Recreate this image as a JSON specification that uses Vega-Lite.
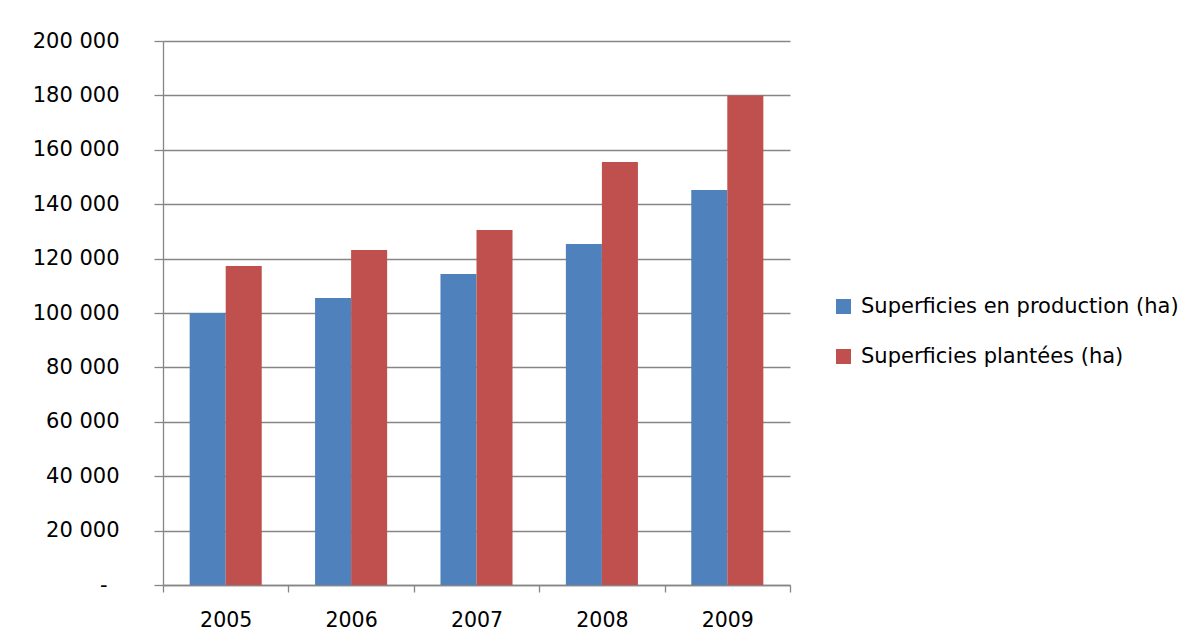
{
  "$schema": "https://vega.github.io/schema/vega-lite/v6.json",
  "autosize": "none",
  "padding": {"left": 163, "top": 41, "right": 405, "bottom": 57},
  "width": 627,
  "height": 544,
  "background": "white",
  "config": {
    "view": {"stroke": null},
    "font": "DejaVu Sans",
    "axis": {"labelFont": "DejaVu Sans", "labelColor": "#000000", "labelFontSize": 21}
  },
  "data": {
    "values": [
      {"year": "2005", "series": "Superficies en production (ha)", "value": 100000},
      {"year": "2005", "series": "Superficies plantées (ha)", "value": 117300},
      {"year": "2006", "series": "Superficies en production (ha)", "value": 105500},
      {"year": "2006", "series": "Superficies plantées (ha)", "value": 123200},
      {"year": "2007", "series": "Superficies en production (ha)", "value": 114300},
      {"year": "2007", "series": "Superficies plantées (ha)", "value": 130500},
      {"year": "2008", "series": "Superficies en production (ha)", "value": 125400},
      {"year": "2008", "series": "Superficies plantées (ha)", "value": 155500},
      {"year": "2009", "series": "Superficies en production (ha)", "value": 145200},
      {"year": "2009", "series": "Superficies plantées (ha)", "value": 180000}
    ]
  },
  "mark": {"type": "bar"},
  "encoding": {
    "x": {
      "field": "year",
      "type": "nominal",
      "scale": {"paddingInner": 0, "paddingOuter": 0},
      "axis": {
        "title": null,
        "labelAngle": 0,
        "labelFontSize": 20.5,
        "tickBand": "extent",
        "tickSize": 7,
        "tickColor": "#868686",
        "tickWidth": 1.3,
        "domainColor": "#868686",
        "domainWidth": 1.3,
        "labelPadding": 18,
        "grid": false
      }
    },
    "xOffset": {
      "field": "series",
      "type": "nominal",
      "sort": ["Superficies en production (ha)", "Superficies plantées (ha)"],
      "scale": {"paddingOuter": 0.74, "paddingInner": 0}
    },
    "y": {
      "field": "value",
      "type": "quantitative",
      "scale": {"domain": [0, 200000], "nice": false},
      "axis": {
        "title": null,
        "values": [0, 20000, 40000, 60000, 80000, 100000, 120000, 140000, 160000, 180000, 200000],
        "labelExpr": "datum.value == 0 ? '-' : replace(format(datum.value, ','), ',', ' ')",
        "labelOverlap": false,
        "labelBound": false,
        "tickSize": 9,
        "tickColor": "#868686",
        "tickWidth": 1.3,
        "domainColor": "#868686",
        "domainWidth": 1.3,
        "gridColor": "#868686",
        "gridWidth": 1.3,
        "labelPadding": {"condition": {"test": "datum.value == 0", "value": 47}, "value": 35},
        "grid": true
      }
    },
    "color": {
      "field": "series",
      "type": "nominal",
      "sort": ["Superficies en production (ha)", "Superficies plantées (ha)"],
      "scale": {
        "domain": ["Superficies en production (ha)", "Superficies plantées (ha)"],
        "range": ["#4F81BD", "#C0504D"]
      },
      "legend": {
        "title": null,
        "orient": "none",
        "legendX": 670,
        "legendY": 255,
        "padding": 0,
        "symbolType": "square",
        "symbolSize": 225,
        "symbolStrokeWidth": 0,
        "labelFontSize": 21,
        "labelFont": "DejaVu Sans",
        "labelColor": "#000000",
        "labelLimit": 400,
        "rowPadding": 28,
        "labelOffset": 7
      }
    }
  }
}
